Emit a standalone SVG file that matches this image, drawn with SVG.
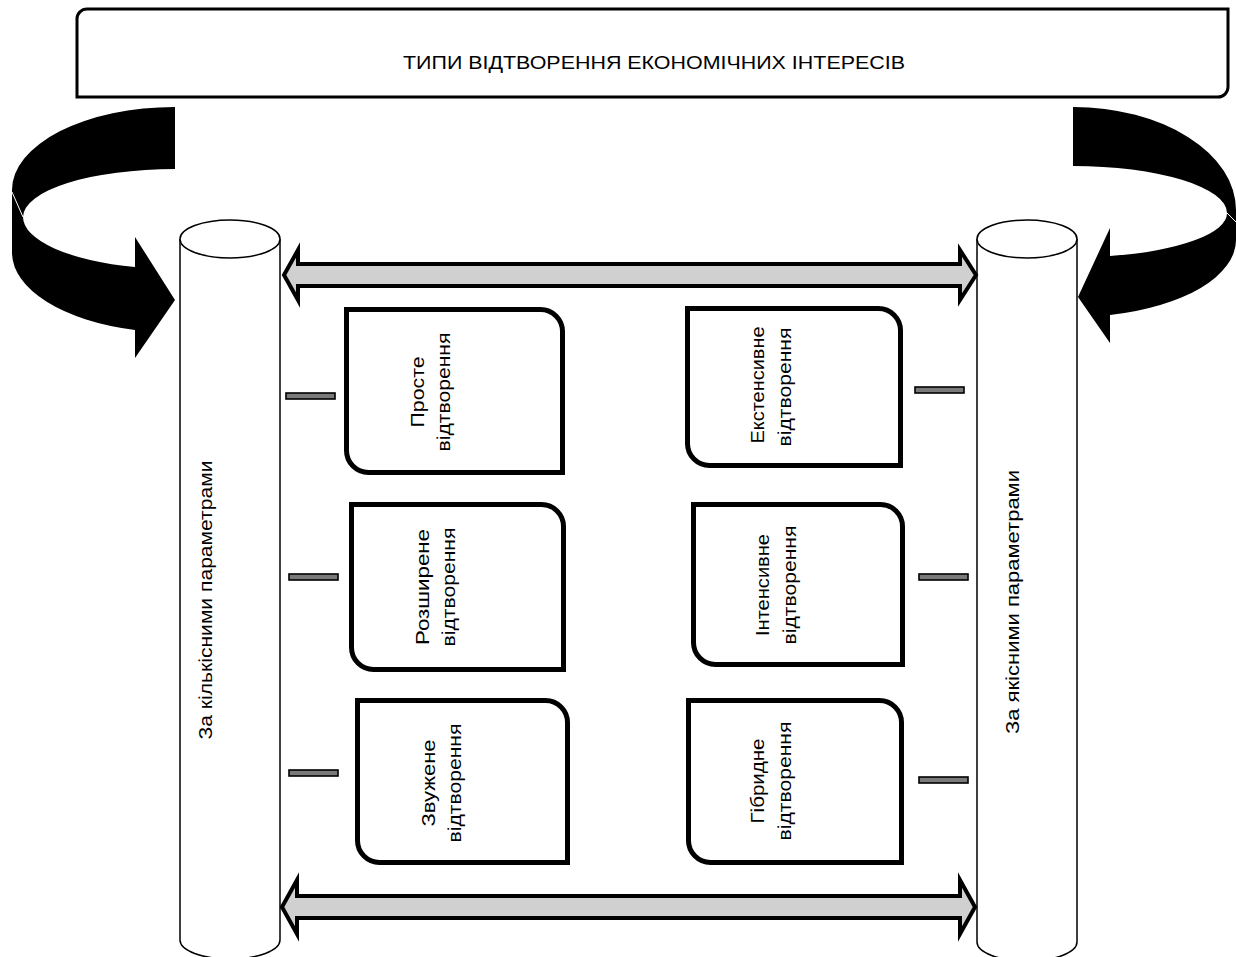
<svg xmlns="http://www.w3.org/2000/svg" width="1236" height="957" viewBox="0 0 1236 957">
<style>
.box{fill:#fff;stroke:#000;stroke-width:5}
.cyl{fill:#fff;stroke:#000;stroke-width:1.5}
.dash{fill:#7a7a7a;stroke:#000;stroke-width:1.6}
.garrow{fill:#d0d0d0;stroke:#000;stroke-width:4;stroke-linejoin:miter}
.carrow{fill:#000;stroke:none}
text{font-family:"Liberation Sans",Arial,sans-serif;font-size:18px;fill:#000}
</style>
<rect width="1236" height="957" fill="#fff"/>
<g id="title">
<path d="M77,19 A10,10 0 0 1 87,9 L1228,9 L1228,87 A10,10 0 0 1 1218,97 L77,97 Z" fill="#fff" stroke="#000" stroke-width="3"/>
<text x="654" y="69" text-anchor="middle" textLength="502" lengthAdjust="spacingAndGlyphs">ТИПИ ВІДТВОРЕННЯ ЕКОНОМІЧНИХ ІНТЕРЕСІВ</text>
</g>
<g id="curved-arrow-left">
<path class="carrow" d="M175,107 A163,83 0 0 0 12,190 L12,253 A163,80 0 0 0 135,330 L135,358 L175,300 L135,237 L135,267 A152,52 0 0 1 23,217 A152,48 0 0 1 175,169 Z"/>
<line x1="12" y1="192" x2="23" y2="217" stroke="#fff" stroke-width="1"/>
</g>
<g id="curved-arrow-right">
<path class="carrow" d="M1073,107 A163,103 0 0 1 1236,210 L1236,240 A163,77 0 0 1 1110,315 L1110,343 L1078,297 L1110,228 L1110,256 A154,44 0 0 0 1227,213 A154,47 0 0 0 1073,166 Z"/>
<line x1="1236" y1="222" x2="1227" y2="213" stroke="#fff" stroke-width="1"/>
</g>
<g id="cylinder-left">
<path class="cyl" d="M180,239 L180,940 A50,19 0 0 0 280,940 L280,239"/>
<ellipse class="cyl" cx="230" cy="239" rx="50" ry="19"/>
<text transform="translate(212,600) rotate(-90)" text-anchor="middle" textLength="279" lengthAdjust="spacingAndGlyphs">За кількісними параметрами</text>
</g>
<g id="cylinder-right">
<path class="cyl" d="M977,239 L977,942 A50,19 0 0 0 1077,942 L1077,239"/>
<ellipse class="cyl" cx="1027" cy="239" rx="50" ry="19"/>
<text transform="translate(1019,602) rotate(-90)" text-anchor="middle" textLength="264" lengthAdjust="spacingAndGlyphs">За якісними параметрами</text>
</g>
<g id="connectors">
<path class="garrow" d="M284,275 L298,250 L298,264 L960,264 L960,250 L976,275 L960,300 L960,286 L298,286 L298,300 Z"/>
<path class="garrow" d="M282,907 L297,880 L297,896 L960,896 L960,880 L975,907 L960,934 L960,918 L297,918 L297,934 Z"/>
<rect class="dash" x="286" y="393" width="49" height="6"/>
<rect class="dash" x="289" y="574" width="49" height="6"/>
<rect class="dash" x="289" y="770" width="49" height="6"/>
<rect class="dash" x="915" y="387" width="49" height="6"/>
<rect class="dash" x="919" y="574" width="49" height="6"/>
<rect class="dash" x="919" y="777" width="49" height="6"/>
</g>
<g id="box-proste">
<path class="box" d="M346.5,309.5 L540.5,309.5 A22,22 0 0 1 562.5,331.5 L562.5,472.5 L368.5,472.5 A22,22 0 0 1 346.5,450.5 Z"/>
<text transform="translate(424,392) rotate(-90)" text-anchor="middle" textLength="71" lengthAdjust="spacingAndGlyphs">Просте</text>
<text transform="translate(450,392) rotate(-90)" text-anchor="middle" textLength="119" lengthAdjust="spacingAndGlyphs">відтворення</text>
</g>
<g id="box-rozshyrene">
<path class="box" d="M351.5,504.5 L541.5,504.5 A22,22 0 0 1 563.5,526.5 L563.5,669.5 L373.5,669.5 A22,22 0 0 1 351.5,647.5 Z"/>
<text transform="translate(429,587) rotate(-90)" text-anchor="middle" textLength="116" lengthAdjust="spacingAndGlyphs">Розширене</text>
<text transform="translate(455,587) rotate(-90)" text-anchor="middle" textLength="119" lengthAdjust="spacingAndGlyphs">відтворення</text>
</g>
<g id="box-zvuzhene">
<path class="box" d="M357.5,700.5 L545.5,700.5 A22,22 0 0 1 567.5,722.5 L567.5,862.5 L379.5,862.5 A22,22 0 0 1 357.5,840.5 Z"/>
<text transform="translate(435,783) rotate(-90)" text-anchor="middle" textLength="87" lengthAdjust="spacingAndGlyphs">Звужене</text>
<text transform="translate(461,783) rotate(-90)" text-anchor="middle" textLength="119" lengthAdjust="spacingAndGlyphs">відтворення</text>
</g>
<g id="box-ekstensyvne">
<path class="box" d="M687.5,308.5 L878.5,308.5 A22,22 0 0 1 900.5,330.5 L900.5,465.5 L709.5,465.5 A22,22 0 0 1 687.5,443.5 Z"/>
<text transform="translate(764,385) rotate(-90)" text-anchor="middle" textLength="117" lengthAdjust="spacingAndGlyphs">Екстенсивне</text>
<text transform="translate(791,387) rotate(-90)" text-anchor="middle" textLength="119" lengthAdjust="spacingAndGlyphs">відтворення</text>
</g>
<g id="box-intensyvne">
<path class="box" d="M693.5,504.5 L880.5,504.5 A22,22 0 0 1 902.5,526.5 L902.5,664.5 L715.5,664.5 A22,22 0 0 1 693.5,642.5 Z"/>
<text transform="translate(769,585) rotate(-90)" text-anchor="middle" textLength="102" lengthAdjust="spacingAndGlyphs">Інтенсивне</text>
<text transform="translate(796,585) rotate(-90)" text-anchor="middle" textLength="119" lengthAdjust="spacingAndGlyphs">відтворення</text>
</g>
<g id="box-hibrydne">
<path class="box" d="M688.5,700.5 L879.5,700.5 A22,22 0 0 1 901.5,722.5 L901.5,862.5 L710.5,862.5 A22,22 0 0 1 688.5,840.5 Z"/>
<text transform="translate(764,781) rotate(-90)" text-anchor="middle" textLength="85" lengthAdjust="spacingAndGlyphs">Гібридне</text>
<text transform="translate(791,781) rotate(-90)" text-anchor="middle" textLength="119" lengthAdjust="spacingAndGlyphs">відтворення</text>
</g>
</svg>
